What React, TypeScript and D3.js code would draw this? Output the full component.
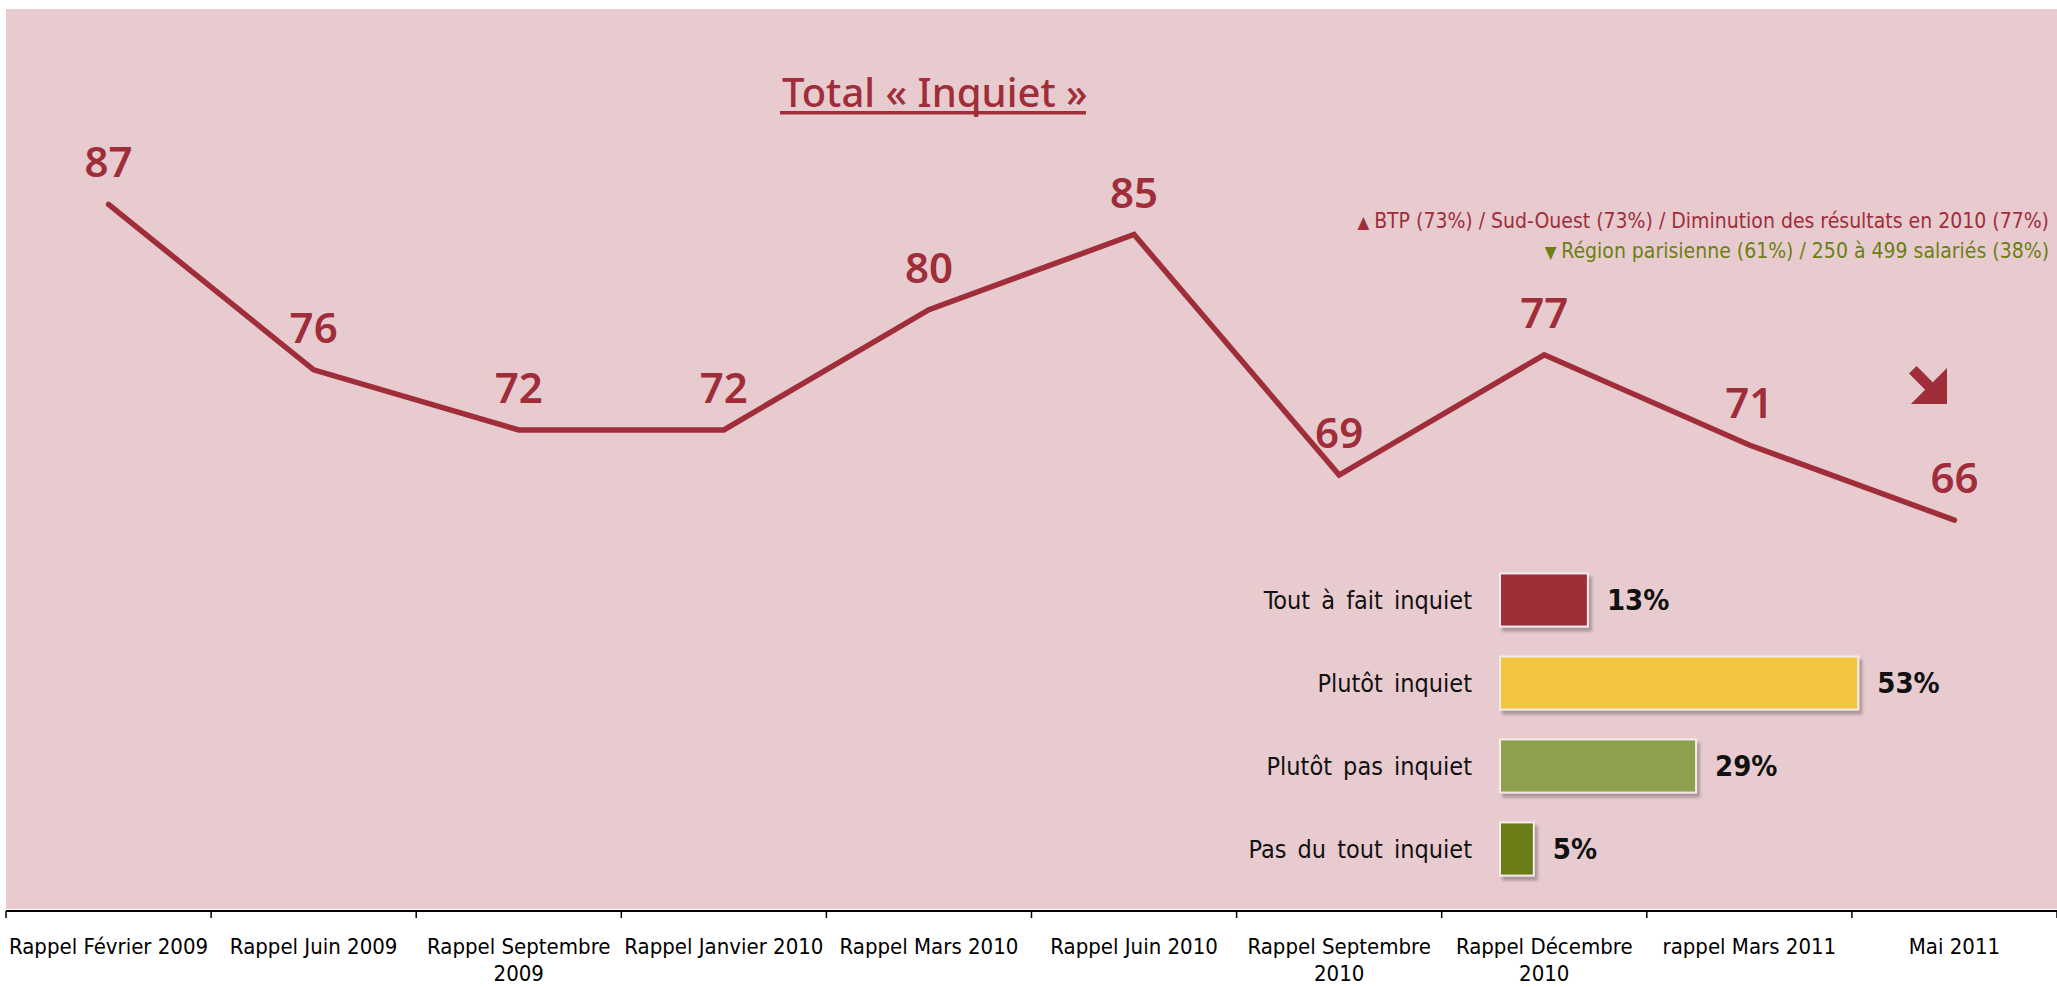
import React from 'react';
import * as d3 from 'd3';

const W = 2057;
const H = 987;

// line chart data
const categories = [
  'Rappel Février 2009',
  'Rappel Juin 2009',
  'Rappel Septembre 2009',
  'Rappel Janvier 2010',
  'Rappel Mars 2010',
  'Rappel Juin 2010',
  'Rappel Septembre 2010',
  'Rappel Décembre 2010',
  'rappel Mars 2011',
  'Mai 2011',
];
const values = [87, 76, 72, 72, 80, 85, 69, 77, 71, 66];

// detail bars
const barCategories = ['Tout à fait inquiet', 'Plutôt inquiet', 'Plutôt pas inquiet', 'Pas du tout inquiet'];
const barValues = [13, 53, 29, 5];
const barColors = ['#9E2D39', '#F2C641', '#8FA04D', '#6A7D12'];

const upNote = 'BTP (73%) / Sud-Ouest (73%) / Diminution des résultats en 2010 (77%)';
const downNote = 'Région parisienne (61%) / 250 à 499 salariés (38%)';

const RED = '#A02D3A';
const GREEN = '#6B7F14';
const narrow = '"Liberation Sans Narrow", "DejaVu Sans Condensed", sans-serif';

function wrapLabel(s: string): string[] {
  if (s.length <= 19) return [s];
  const i = s.lastIndexOf(' ');
  return [s.slice(0, i), s.slice(i + 1)];
}

export default function App() {
  const x = d3.scaleBand<string>().domain(categories).range([6, W]).paddingInner(0).paddingOuter(0);
  const y = d3.scaleLinear().domain([40, 100]).range([911, 9]);
  const cx = (c: string) => (x(c) as number) + x.bandwidth() / 2;

  const line = d3
    .line<number>()
    .x((_, i) => cx(categories[i]))
    .y((d) => y(d));

  const by = d3.scaleBand<string>().domain(barCategories).range([558.5, 890.5]).paddingInner(0.36).paddingOuter(0.18);
  const bx = d3.scaleLinear().domain([0, 100]).range([1500, 2176]);

  const ticks = categories.map((c) => x(c) as number).concat([W]);

  // arrow shape in unit box
  const arrowPts: [number, number][] = [
    [0.2, 0], [0.625, 0.425], [1, 0.05], [1, 1], [0.05, 1], [0.425, 0.625], [0, 0.2],
  ];
  const ax = d3.scaleLinear().domain([0, 1]).range([1909, 1947]);
  const ay = d3.scaleLinear().domain([0, 1]).range([366, 404]);

  return (
    <svg width={W} height={H} style={{ position: 'absolute', left: 0, top: 0, display: 'block' }}>
      <defs>
        <filter id="shadow" x="-10%" y="-10%" width="130%" height="140%">
          <feDropShadow dx="3" dy="4" stdDeviation="1.5" floodColor="#7a6a6c" floodOpacity="0.55" />
        </filter>
      </defs>
      <rect x={0} y={0} width={W} height={H} fill="#fff" />
      <rect x={6} y={9} width={W - 6} height={900} fill="#E8CBCF" />

      {/* title */}
      <text x={782} y={107} fontFamily="'Noto Sans', sans-serif" fontSize={40} fontWeight={500} fill={RED}>
        Total « Inquiet »
      </text>
      <rect x={780} y={111} width={306} height={3.5} fill={RED} />

      {/* notes */}
      <text x={2049} y={228} textAnchor="end" fontFamily={narrow} fontSize={21} fill={RED}>
        <tspan fontSize={17}>▲ </tspan>
        {upNote}
      </text>
      <text x={2049} y={258} textAnchor="end" fontFamily={narrow} fontSize={21} fill={GREEN}>
        <tspan fontSize={17}>▼ </tspan>
        {downNote}
      </text>

      {/* trend line */}
      <path d={line(values) || ''} fill="none" stroke={RED} strokeWidth={5.5} strokeLinejoin="miter" strokeLinecap="round" />
      {values.map((v, i) => (
        <text
          key={i}
          x={cx(categories[i])}
          y={y(v) - 27}
          textAnchor="middle"
          fontFamily="'Noto Sans', sans-serif"
          fontSize={42}
          fontWeight={600}
          fill={RED}
        >
          {v}
        </text>
      ))}

      {/* down arrow */}
      <polygon points={arrowPts.map(([a, b]) => `${ax(a)},${ay(b)}`).join(' ')} fill={RED} />

      {/* bars */}
      {barCategories.map((c, i) => {
        const top = by(c) as number;
        const h = by.bandwidth();
        return (
          <g key={c}>
            <rect
              x={bx(0)}
              y={top}
              width={bx(barValues[i]) - bx(0)}
              height={h}
              fill={barColors[i]}
              stroke="#F3EBEC"
              strokeWidth={2}
              filter="url(#shadow)"
            />
            <text
              x={1472}
              y={top + h / 2}
              dy="0.35em"
              textAnchor="end"
              fontFamily={narrow}
              fontSize={25}
              wordSpacing={4}
              fill="#111"
            >
              {c}
            </text>
            <text
              x={bx(barValues[i]) + 19}
              y={top + h / 2}
              dy="0.36em"
              fontFamily={narrow}
              fontSize={29}
              fontWeight={600}
              fill="#111"
            >
              {barValues[i]}%
            </text>
          </g>
        );
      })}

      {/* x axis */}
      <line x1={6} x2={W} y1={911} y2={911} stroke="#000" strokeWidth={2} />
      {ticks.map((t, i) => (
        <line key={i} x1={t} x2={t} y1={911} y2={918} stroke="#000" strokeWidth={1.5} />
      ))}
      {categories.map((c) => (
        <text key={c} textAnchor="middle" fontFamily={narrow} fontSize={22} fill="#000">
          {wrapLabel(c).map((l, j) => (
            <tspan key={j} x={cx(c)} y={954 + j * 27}>
              {l}
            </tspan>
          ))}
        </text>
      ))}
    </svg>
  );
}
